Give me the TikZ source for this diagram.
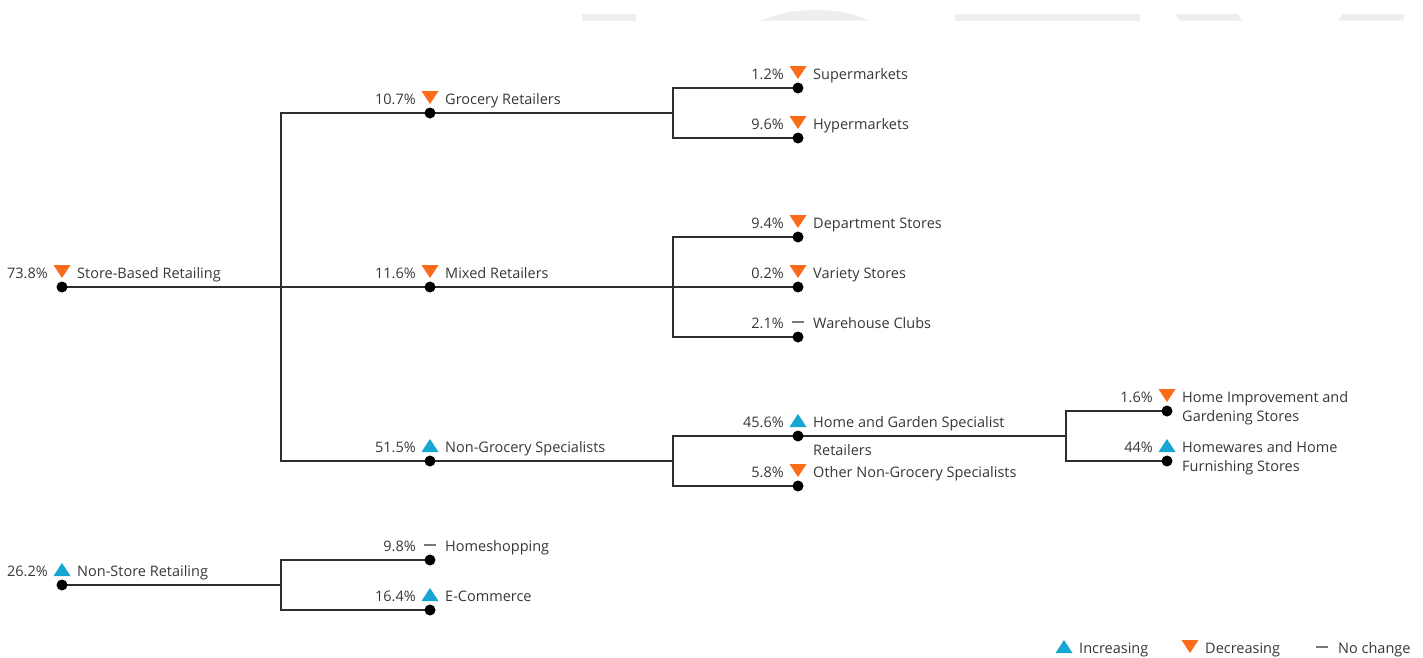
\documentclass[tikz,border=0pt]{standalone}
\usepackage{fontspec}
\setmainfont{Open Sans}
\usetikzlibrary{backgrounds}
\definecolor{decC}{RGB}{250,107,26}
\definecolor{incC}{RGB}{22,166,210}
\definecolor{ncC}{RGB}{120,120,120}
\definecolor{txtC}{RGB}{55,55,55}
\definecolor{lineC}{RGB}{45,45,45}
\definecolor{wmC}{RGB}{238,238,238}
\tikzset{
  dot/.style={circle,fill=black,inner sep=0pt,minimum size=11pt},
  lbl/.style={inner sep=0pt,text=txtC,font=\fontsize{14.5}{17}\selectfont},
  conn/.style={draw=lineC,line width=1.3pt},
  dec/.pic={\fill[decC] (-8.5,-22) -- (8.5,-22) -- (0,-9) -- cycle;},
  inc/.pic={\fill[incC] (-8.5,-9) -- (8.5,-9) -- (0,-22) -- cycle;},
  nc/.pic={\draw[ncC,line width=2pt] (-6,-15) -- (6,-15);},
}
\newcommand\leaf[6]{%
  \node[dot] (#1) at (#2,#3) {};
  \pic at (#1.center) {#5};
  \node[lbl,anchor=base east] (#1-p) at ([xshift=-14pt,yshift=9pt]#1.center) {#4};
  \node[lbl,anchor=base west] (#1-l) at ([xshift=15pt,yshift=9pt]#1.center) {#6};
}
\begin{document}
\begin{tikzpicture}[x=1pt,y=-1pt]
\useasboundingbox (0,0) rectangle (1423,657);
% watermark
\fill[wmC] (582,14) rectangle (636,20.7);
\fill[wmC] (761,20.7) .. controls (790,6.4) and (841,6.4) .. (870,20.7) -- cycle;
\fill[wmC] (955,14) rectangle (1140,20.7);
\fill[wmC] (1175,14) -- (1238,14) -- (1242,20.7) -- (1180,20.7) -- cycle;
\fill[wmC] (1343,14) -- (1405,14) -- (1403,20.7) -- (1338,20.7) -- cycle;
% leaves
\leaf{sbr}{62}{287}{73.8\%}{dec}{Store-Based Retailing}
\leaf{groc}{430}{113}{10.7\%}{dec}{Grocery Retailers}
\leaf{mix}{430}{287}{11.6\%}{dec}{Mixed Retailers}
\leaf{ngs}{430}{461}{51.5\%}{inc}{Non-Grocery Specialists}
\leaf{sup}{798}{88}{1.2\%}{dec}{Supermarkets}
\leaf{hyp}{798}{138}{9.6\%}{dec}{Hypermarkets}
\leaf{dep}{798}{237}{9.4\%}{dec}{Department Stores}
\leaf{var}{798}{287}{0.2\%}{dec}{Variety Stores}
\leaf{war}{798}{337}{2.1\%}{nc}{Warehouse Clubs}
\leaf{hg}{798}{436}{45.6\%}{inc}{Home and Garden Specialist}
\node[lbl,anchor=base west] (hg-l2) at (813,455) {Retailers};
\leaf{oth}{798}{486}{5.8\%}{dec}{Other Non-Grocery Specialists}
\leaf{hi}{1167}{411}{1.6\%}{dec}{Home Improvement and}
\node[lbl,anchor=base west] (hi-l2) at (1182,421.5) {Gardening Stores};
\leaf{hw}{1167}{461}{44\%}{inc}{Homewares and Home}
\node[lbl,anchor=base west] (hw-l2) at (1182,471) {Furnishing Stores};
\leaf{nsr}{62}{585}{26.2\%}{inc}{Non-Store Retailing}
\leaf{hs}{430}{560}{9.8\%}{nc}{Homeshopping}
\leaf{ec}{430}{610}{16.4\%}{inc}{E-Commerce}
% junctions
\coordinate (ja) at (281,287);
\coordinate (jb) at (673,113);
\coordinate (jc) at (673,287);
\coordinate (jd) at (673,461);
\coordinate (je) at (1066,436);
\coordinate (jf) at (281,585);
\begin{scope}[on background layer]
\draw[conn] (sbr.center) -- (mix.center) -- (var.center);
\draw[conn] (groc.center) -| (ja) |- (ngs.center);
\draw[conn] (groc.center) -- (jb);
\draw[conn] (sup.center) -| (jb) |- (hyp.center);
\draw[conn] (dep.center) -| (jc) |- (war.center);
\draw[conn] (ngs.center) -- (jd);
\draw[conn] (hg.center) -| (jd) |- (oth.center);
\draw[conn] (hg.center) -- (je);
\draw[conn] (hi.center) -| (je) |- (hw.center);
\draw[conn] (nsr.center) -- (jf);
\draw[conn] (hs.center) -| (jf) |- (ec.center);
\end{scope}
% legend
\pic at (1064,662) {inc};
\node[lbl,anchor=base west] (lg-inc) at (1079,653) {Increasing};
\pic at (1190,662) {dec};
\node[lbl,anchor=base west] (lg-dec) at (1205,653) {Decreasing};
\pic at (1322,662) {nc};
\node[lbl,anchor=base west] (lg-nc) at (1338,653) {No change};
\end{tikzpicture}
\end{document}
